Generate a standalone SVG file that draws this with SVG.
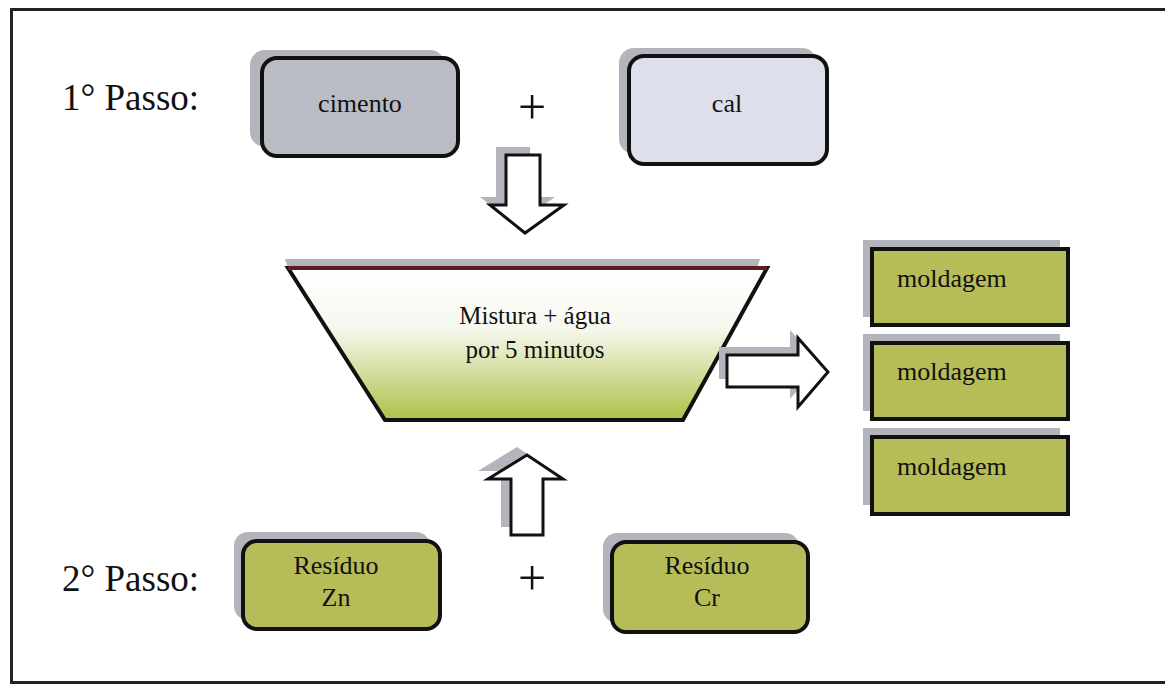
<svg xmlns="http://www.w3.org/2000/svg" width="1165" height="684" viewBox="0 0 1165 684" font-family="'Liberation Serif','Times New Roman',serif">
<defs>
<linearGradient id="mix" x1="0" y1="0" x2="0" y2="1">
<stop offset="0" stop-color="#ffffff"/>
<stop offset="0.4" stop-color="#f6f8ee"/>
<stop offset="1" stop-color="#aec046"/>
</linearGradient>
<style>
text{font-family:"Liberation Serif","Times New Roman",serif;fill:#111}
.lbl{font-size:37px}
.t{font-size:26px;text-anchor:middle}
.tm{font-size:25px;text-anchor:middle}
.tl{font-size:26px}
.plus{font-size:50px;text-anchor:middle}
.sh{fill:#b4b4bc}
.box{stroke:#111;stroke-width:4}
.gray{fill:#b9bcc4}
.light{fill:#dde0ea}
.green{fill:#b6bd58}
.arrow{fill:#fff;stroke:#111;stroke-width:3;stroke-linejoin:miter}
</style>
</defs>
<rect width="1165" height="684" fill="#fff"/>
<rect x="11.5" y="9.5" width="1160" height="673" fill="none" stroke="#222" stroke-width="3"/>

<text class="lbl" x="62" y="110">1° Passo:</text>
<text class="lbl" x="62" y="591">2° Passo:</text>

<g id="cimento">
<rect class="sh" x="250" y="50" width="195" height="97" rx="15"/>
<rect class="box gray" x="262" y="58" width="196" height="98" rx="15"/>
<text class="t" x="360" y="112">cimento</text>
</g>

<text class="plus" x="532" y="124">+</text>

<g id="cal">
<rect class="sh" x="619" y="48" width="198" height="106" rx="15"/>
<rect class="box light" x="629" y="56" width="198" height="108" rx="15"/>
<text class="t" x="727" y="112">cal</text>
</g>

<g id="mistura">
<polygon class="sh" points="285,259 760,259 757,268 288,268"/>
<polygon points="288,268 767,268 683,420 385,420" fill="url(#mix)" stroke="#111" stroke-width="4" stroke-linejoin="miter"/>
<line x1="288" y1="268" x2="767" y2="268" stroke="#5a2020" stroke-width="4"/>
<text class="tm" x="535" y="324">Mistura + água</text>
<text class="tm" x="535" y="358">por 5 minutos</text>
</g>

<g id="moldagem1">
<rect class="sh" x="863" y="240" width="197" height="77"/>
<rect class="box green" x="872" y="249" width="196" height="76"/>
<text class="tl" x="897" y="287">moldagem</text>
</g>
<g id="moldagem2">
<rect class="sh" x="863" y="334" width="197" height="77"/>
<rect class="box green" x="872" y="343" width="196" height="76"/>
<text class="tl" x="897" y="380">moldagem</text>
</g>
<g id="moldagem3">
<rect class="sh" x="863" y="428" width="197" height="77"/>
<rect class="box green" x="872" y="437" width="196" height="77"/>
<text class="tl" x="897" y="475">moldagem</text>
</g>

<g id="residuo-zn">
<rect class="sh" x="234" y="532" width="196" height="88" rx="14"/>
<rect class="box green" x="243" y="541" width="197" height="88" rx="14"/>
<text class="t" x="336" y="574">Resíduo</text>
<text class="t" x="336" y="606">Zn</text>
</g>

<text class="plus" x="532" y="595">+</text>

<g id="residuo-cr">
<rect class="sh" x="603" y="533" width="196" height="90" rx="14"/>
<rect class="box green" x="612" y="542" width="196" height="90" rx="14"/>
<text class="t" x="707" y="574">Resíduo</text>
<text class="t" x="707" y="606">Cr</text>
</g>

<g id="connectors">
<polygon class="sh" points="496,147 530,147 530,197 555,197 515,225 480,197 496,197"/>
<polygon class="arrow" points="506,155 540,155 540,205 564,205 525,233 490,205 506,205"/>
<polygon class="sh" points="719,347 790,347 790,330 820,364 790,399 790,379 719,379"/>
<polygon class="arrow" points="727,355 798,355 798,338 828,372 798,407 798,387 727,387"/>
<polygon class="sh" points="501,527 501,471 478,471 517,447 553,471 533,471 533,527"/>
<polygon class="arrow" points="511,535 511,479 488,479 527,455 563,479 543,479 543,535"/>
</g>
</svg>
